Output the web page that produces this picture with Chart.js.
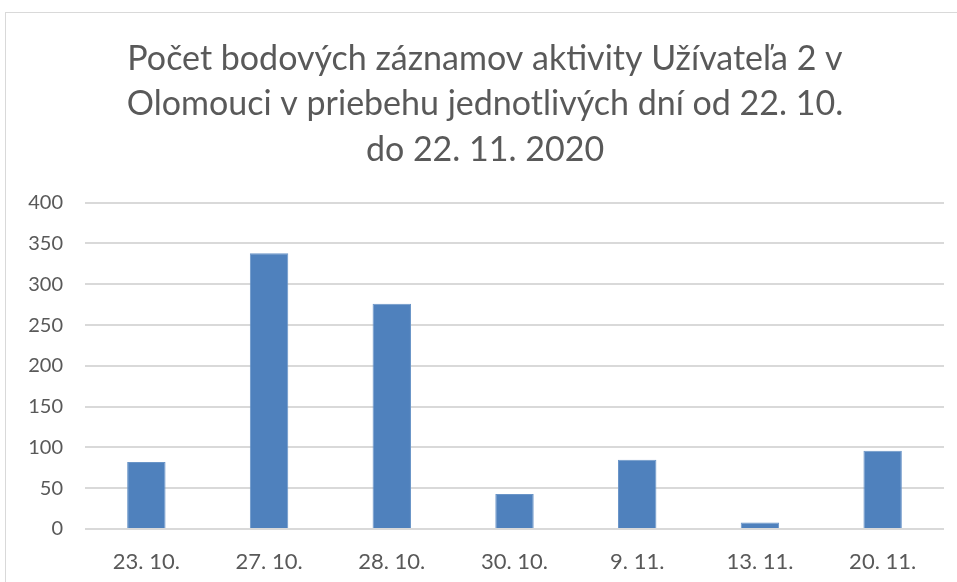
<!DOCTYPE html>
<html>
<head>
<meta charset="utf-8">
<script src="https://cdn.jsdelivr.net/npm/chart.js@4/dist/chart.umd.min.js"></script>
<style>
  html, body { margin: 0; padding: 0; background: #fff; }
  #wrap { position: relative; width: 957px; height: 582px; }
  #frame { position: absolute; left: 5px; top: 12px; width: 1000px; height: 700px; border: 1px solid #d9d9d9; box-sizing: border-box; }
  canvas { position: absolute; left: 0; top: 0; }
</style>
</head>
<body>
<div id="wrap">
  <div id="frame"></div>
  <canvas id="myChart" width="957" height="582"></canvas>
</div>
<script>
const days = ["23. 10.", "27. 10.", "28. 10.", "30. 10.", "9. 11.", "13. 11.", "20. 11."];
const pointCounts = [82, 338, 276, 43, 85, 8, 96];
const titleLines = [
  "Počet bodových záznamov aktivity Užívateľa 2 v",
  "Olomouci v priebehu jednotlivých dní od 22. 10.",
  "do 22. 11. 2020"
];

const textGrey = '#595959';
const gridGrey = '#d9d9d9';

const context = document.getElementById('myChart').getContext('2d');
const myChart = new Chart(context, {
  type: 'bar',
  data: {
    labels: days,
    datasets: [{
      label: 'Počet záznamov',
      data: pointCounts,
      backgroundColor: '#4f81bd',
      borderColor: '#6a95c8',
      borderWidth: 1,
      barPercentage: 0.313,
      categoryPercentage: 1
    }]
  },
  options: {
    responsive: false,
    animation: false,
    // left padding nudges the title towards the middle of the plot
    layout: { padding: { left: 26, right: 13, top: 0, bottom: 0 } },
    plugins: {
      legend: { display: false },
      tooltip: { enabled: false },
      title: {
        display: true,
        text: titleLines,
        color: textGrey,
        font: { family: 'Lato', size: 34, weight: 'normal', lineHeight: 1.34 },
        padding: { top: 36, bottom: 30 }
      }
    },
    scales: {
      x: {
        grid: { display: false },
        border: { display: false },
        ticks: { color: textGrey, font: { family: 'Lato', size: 22 }, padding: 12, maxRotation: 0 },
        afterFit: (scale) => { scale.height = 53; }
      },
      y: {
        min: 0,
        max: 400,
        ticks: { stepSize: 50, color: textGrey, font: { family: 'Lato', size: 20 }, padding: 22 },
        grid: { color: gridGrey, lineWidth: 2, drawTicks: false },
        border: { display: false },
        afterFit: (scale) => { scale.width = 59; }
      }
    }
  }
});
</script>
</body>
</html>
